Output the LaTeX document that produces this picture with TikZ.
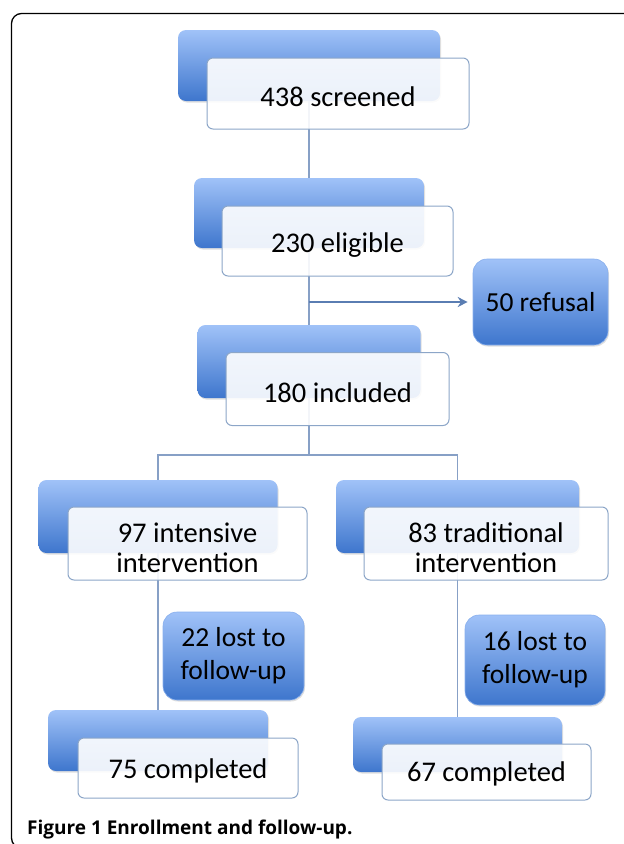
\documentclass[tikz,border=0pt]{standalone}
\usepackage{fontspec}
\setmainfont{Carlito}
\newfontfamily\capfont{Open Sans}
\usetikzlibrary{shadows,arrows.meta}
\definecolor{bluetop}{RGB}{160,194,248}
\definecolor{bluebot}{RGB}{62,118,205}
\definecolor{frontline}{RGB}{140,166,200}
\definecolor{connline}{RGB}{135,160,198}
\definecolor{arrowblue}{RGB}{90,125,178}
\newcommand{\lowone}[2]{\raisebox{-#1}[\height][\depth]{#2}}
\newcommand{\lowtwo}[2]{\raisebox{-#1}[\height][\depth]{\begin{tabular}{@{}c@{}}#2\end{tabular}}}
\begin{document}
\begin{tikzpicture}[x=1pt,y=-1pt,
  backbox/.style={rounded corners=8pt, top color=bluetop, bottom color=bluebot, draw=none,
    drop shadow={opacity=0.25,shadow xshift=1pt,shadow yshift=-1.5pt}, inner sep=0pt},
  frontbox/.style={rounded corners=6pt, draw=frontline, line width=1pt, fill=white,
    fill opacity=0.9, text opacity=1, align=center, inner sep=0pt,
    font=\fontsize{28.5}{30}\selectfont},
  lostbox/.style={rounded corners=14pt, top color=bluetop, bottom color=bluebot,
    draw=bluetop!75!bluebot, line width=0.6pt, align=center, inner sep=0pt,
    font=\fontsize{27.5}{33}\selectfont,
    drop shadow={opacity=0.25,shadow xshift=1pt,shadow yshift=-1.5pt}},
  conn/.style={draw=connline, line width=1.4pt},
  arr/.style={draw=arrowblue, line width=2.5pt, -{Stealth[length=10pt,width=10pt]}, shorten >=5pt}]
\useasboundingbox (0,0) rectangle (624,844);
\begin{scope}
\clip (0,0) rectangle (624,844);
\draw[line width=1.3pt, rounded corners=10pt] (11.5,13.5) rectangle (660,848);
\end{scope}

% back boxes
\node[backbox, minimum width=262pt, minimum height=71pt] (b1back) at (309,65.5) {};
\node[backbox, minimum width=230pt, minimum height=70pt] (b2back) at (309,213) {};
\node[backbox, minimum width=223pt, minimum height=73pt] (b3back) at (309,361.5) {};
\node[backbox, minimum width=239pt, minimum height=73pt] (lback) at (158,516.5) {};
\node[backbox, minimum width=243pt, minimum height=73pt] (rback) at (457.5,516.5) {};
\node[backbox, minimum width=220pt, minimum height=61pt] (lcback) at (158,740.5) {};
\node[backbox, minimum width=209pt, minimum height=55pt] (rcback) at (457.5,744.5) {};

% side boxes
\node[lostbox, minimum width=135pt, minimum height=86pt] (refusal) at (540.5,302) {50 refusal};
\node[lostbox, minimum width=141pt, minimum height=88pt] (lost1) at (233.5,656) {22 lost to\\follow-up};
\node[lostbox, minimum width=140pt, minimum height=90pt] (lost2) at (535,660) {16 lost to\\follow-up};

% connectors
\coordinate (split) at (309,455);
\draw[conn] (b1back.south) -- (b2back.north);
\draw[conn] (b2back.south) -- (b2back.south |- b3back.north);
\draw[conn] (b3back.south) -- (split);
\draw[conn] (lback.north) -- (lback.north |- split) -- (rback.north |- split) -- (rback.north);
\draw[conn] (lback.south) -- (lcback.north);
\draw[conn] (rback.south) -- (rcback.north);
\draw[arr] (b2back.south |- refusal.west) -- (refusal.west);

% front boxes
\node[frontbox, minimum width=262pt, minimum height=71pt] (b1) at (338,93.5) {\lowone{3.5pt}{438 screened}};
\node[frontbox, minimum width=231pt, minimum height=70pt] (b2) at (337.5,241) {\lowone{4pt}{230 eligible}};
\node[frontbox, minimum width=223pt, minimum height=73pt] (b3) at (337.5,389) {\lowone{4pt}{180 included}};
\node[frontbox, minimum width=239pt, minimum height=73pt] (l) at (187.5,543.5) {\lowtwo{8pt}{97 intensive\\intervention}};
\node[frontbox, minimum width=244pt, minimum height=73pt] (r) at (486,543.5) {\lowtwo{8pt}{83 traditional\\intervention}};
\node[frontbox, minimum width=220pt, minimum height=60pt] (lc) at (188,768) {\lowone{3pt}{75 completed}};
\node[frontbox, minimum width=209pt, minimum height=56pt] (rc) at (486.5,772) {\lowone{2pt}{67 completed}};

% caption
\node[anchor=base west, inner sep=0pt, font=\capfont\fontsize{19}{22}\selectfont\bfseries] (cap) at (27,834) {Figure 1 Enrollment and follow-up.};
\end{tikzpicture}
\end{document}
